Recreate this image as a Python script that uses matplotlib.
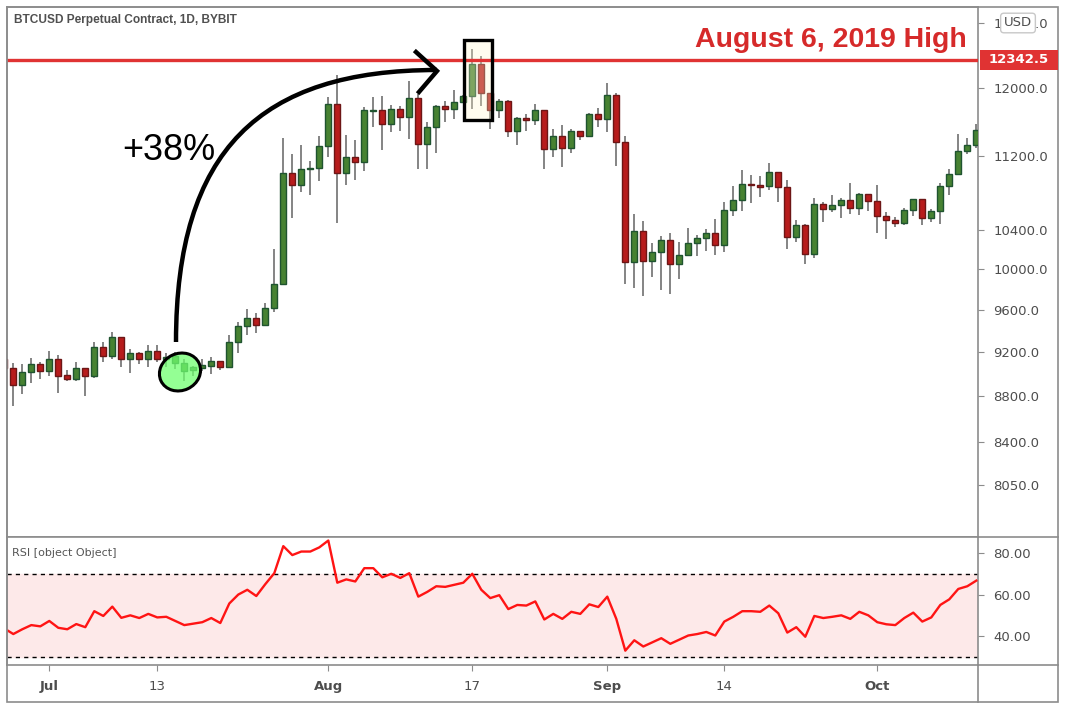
import numpy as np
import pandas as pd
import matplotlib
matplotlib.use('Agg')
import matplotlib.pyplot as plt
import matplotlib.dates as mdates
from matplotlib.patches import Ellipse, Rectangle, PathPatch
from matplotlib.path import Path
from matplotlib.ticker import NullLocator

plt.rcParams['font.family'] = ['DejaVu Sans']

### data
dates = pd.date_range('2020-06-26', periods=109, freq='D')

opens = [9139, 9049, 8896, 9012, 9085, 9027, 9139, 8986, 8955, 9049,
         8982, 9250, 9158, 9343, 9139, 9194, 9139, 9213, 9139, 9094,
         9027, 9033, 9054, 9072, 9115, 9063, 9296, 9446, 9522, 9452,
         9618, 9852, 11012, 10876, 11056, 11067, 11315, 11801, 11012, 11190,
         11141, 11722, 11730, 11567, 11742, 11656, 11873, 11337, 11533, 11777,
         11742, 11825, 11897, 12285, 11933, 11730, 11837, 11486, 11637, 11614,
         11730, 11281, 11429, 11292, 11486, 11429, 11684, 11625, 11909, 11361,
         10068, 10390, 10078, 10174, 10297, 10048, 10143, 10266, 10318, 10369,
         10245, 10611, 10718, 10891, 10880, 10869, 11023, 10858, 10328, 10453,
         10154, 10675, 10622, 10664, 10718, 10633, 10782, 10707, 10548, 10506,
         10474, 10611, 10729, 10527, 10601, 10869, 11001, 11258, 11326]
highs = [9179, 9097, 9088, 9142, 9108, 9206, 9170, 9033, 9108, 9049,
         9290, 9296, 9389, 9343, 9225, 9203, 9262, 9262, 9188, 9197,
         9133, 9072, 9133, 9149, 9115, 9355, 9484, 9602, 9563, 9666,
         10208, 11410, 11227, 11330, 11149, 11432, 11888, 12154, 11444, 11387,
         11773, 11888, 11900, 11793, 11781, 12081, 11920, 11594, 11789, 11844,
         11972, 11912, 12476, 12388, 11933, 11865, 11849, 11649, 11684, 11805,
         11730, 11516, 11559, 11516, 11486, 11702, 11754, 12056, 11933, 11432,
         10572, 10498, 10269, 10341, 10369, 10279, 10425, 10345, 10414, 10519,
         10700, 10872, 11049, 10994, 10975, 11123, 11023, 10939, 10509, 10464,
         10740, 10700, 10775, 10740, 10905, 10793, 10782, 10883, 10590, 10537,
         10633, 10729, 10729, 10622, 10902, 11056, 11452, 11406, 11570]
lows = [9024, 8716, 8821, 8914, 8955, 8982, 8830, 8934, 8937, 8804,
        8964, 9108, 9133, 9058, 9009, 9085, 9058, 9103, 9060, 9042,
        8934, 8982, 9027, 8997, 9036, 9063, 9188, 9361, 9380, 9443,
        9580, 9852, 10522, 10800, 10768, 10920, 11197, 10470, 10876, 10931,
        11041, 11540, 11276, 11482, 11493, 11402, 11063, 11056, 11236, 11597,
        11632, 11816, 11742, 11777, 11516, 11637, 11424, 11333, 11493, 11563,
        11056, 11197, 11078, 11242, 11383, 11418, 11540, 11482, 11096, 9848,
        9809, 9731, 9918, 9790, 9750, 9898, 10129, 10129, 10187, 10139,
        10170, 10544, 10596, 10681, 10746, 10832, 10692, 10203, 10272, 10048,
        10109, 10480, 10590, 10522, 10565, 10554, 10596, 10365, 10307, 10432,
        10453, 10544, 10449, 10485, 10464, 10772, 11001, 11224, 11296]
closes = [9049, 8896, 9012, 9085, 9027, 9139, 8982, 8955, 9049, 8982,
          9250, 9158, 9343, 9139, 9194, 9139, 9213, 9139, 9154, 9158,
          9094, 9058, 9078, 9115, 9063, 9296, 9446, 9522, 9452, 9618,
          9852, 11012, 10876, 11056, 11071, 11315, 11801, 11012, 11190, 11141,
          11730, 11734, 11567, 11742, 11656, 11873, 11337, 11533, 11777, 11742,
          11825, 11897, 12285, 11933, 11730, 11837, 11486, 11637, 11614, 11730,
          11281, 11429, 11292, 11486, 11429, 11684, 11625, 11909, 11361, 10068,
          10390, 10078, 10174, 10297, 10048, 10143, 10266, 10318, 10369, 10245,
          10611, 10718, 10891, 10876, 10865, 11023, 10858, 10328, 10453, 10154,
          10675, 10622, 10664, 10718, 10633, 10782, 10707, 10548, 10506, 10474,
          10611, 10729, 10527, 10601, 10869, 11001, 11258, 11326, 11498]
rsi = [43.7, 41, 43.3, 45.3, 44.7, 47.3, 44, 43.3, 45.8, 44.3,
       52, 49.7, 54.2, 48.8, 50, 48.7, 50.7, 49, 49.3, 47.3,
       45.3, 46, 46.7, 48.7, 46.3, 55.7, 60, 62.3, 59.3, 65,
       70.3, 83.3, 79, 80.7, 80.7, 82.7, 86, 65.7, 67.3, 66.3,
       72.7, 72.7, 68.3, 70, 68, 70.3, 59, 61.3, 64, 63.7,
       64.7, 65.7, 70, 62.3, 58.3, 59.7, 53, 55, 54.7, 56.7,
       48, 50.7, 48.3, 51.7, 50.7, 55.3, 54, 59, 48.3, 33,
       38, 35, 37, 39, 36.3, 38.3, 40.3, 41, 42, 40.3,
       47, 49.3, 52, 52, 51.7, 54.7, 51, 41.7, 44.3, 39.7,
       49.7, 48.7, 49.3, 50, 48.3, 51.7, 50, 46.7, 45.7, 45.3,
       48.7, 51.3, 47, 49, 55, 57.7, 62.7, 64, 66.7]

price_ticks = [8050, 8400, 8800, 9200, 9600, 10000, 10400, 11200, 12000, 12800]
rsi_ticks = [40, 60, 80]
x_tick_dates = ['2020-07-01', '2020-07-13', '2020-08-01', '2020-08-17',
                '2020-09-01', '2020-09-14', '2020-10-01']
x_tick_labels = ['Jul', '13', 'Aug', '17', 'Sep', '14', 'Oct']
month_labels = ['Jul', 'Aug', 'Sep', 'Oct']
high_level = 12342.5
box_dates = ['2020-08-17', '2020-08-18']

GREEN = '#478232'
GREEN_EDGE = '#1f5430'
RED = '#b71c1c'
RED_EDGE = '#6d1616'
LINE_RED = '#e03333'
GRID = '#8c8c8c'
TXT = '#4d4d4d'

W, H = 1065, 710
fig = plt.figure(figsize=(W / 100, H / 100), dpi=100)
ax = fig.add_axes([7 / W, 1 - 537 / H, 971 / W, 530 / H])
rx = fig.add_axes([7 / W, 1 - 665 / H, 971 / W, 128 / H], sharex=ax)

x = mdates.date2num(dates)
o = np.array(opens, float)
c = np.array(closes, float)
up = c >= o
bot = np.minimum(o, c)
hgt = np.maximum(np.abs(c - o), 4)

# candles
ax.vlines(x, lows, highs, color='#707070', lw=1.2, zorder=2)
ax.bar(x[up], hgt[up], bottom=bot[up], width=0.68, color=GREEN,
       edgecolor=GREEN_EDGE, lw=1, zorder=3)
ax.bar(x[~up], hgt[~up], bottom=bot[~up], width=0.68, color=RED,
       edgecolor=RED_EDGE, lw=1, zorder=3)

x0 = mdates.date2num(pd.Timestamp('2020-07-01'))
ax.set_xlim(x0 - 4.7, x0 + 103.19)
ax.set_yscale('log')
ax.set_ylim(7638, 13014)
ax.yaxis.tick_right()
ax.set_yticks(price_ticks)
ax.set_yticklabels(['%.1f' % t for t in price_ticks])
ax.yaxis.set_minor_locator(NullLocator())
ax.tick_params(axis='y', length=4, color=GRID, labelsize=9.5,
               labelcolor=TXT, pad=7)
ax.tick_params(axis='x', bottom=False, labelbottom=False)

# August high line
ax.axhline(high_level, color=LINE_RED, lw=2.4, zorder=5)

# highlight box around the top candles
b0 = mdates.date2num(pd.Timestamp(box_dates[0])) - 0.92
b1 = mdates.date2num(pd.Timestamp(box_dates[1])) + 1.19
ax.add_patch(Rectangle((b0, 11616), b1 - b0, 12590 - 11616, fc='#fff6cc',
                       alpha=0.3, ec='none', zorder=4))
ax.add_patch(Rectangle((b0, 11616), b1 - b0, 12590 - 11616, fill=False,
                       ec='black', lw=2.4, zorder=6))

# RSI
rx.axhspan(30, 70, color='#fde9e9', zorder=0)
rx.axhline(70, color='black', lw=1, ls=(0, (3, 3)))
rx.axhline(30, color='black', lw=1, ls=(0, (3, 3)))
rx.plot(x, rsi, color='#ff1414', lw=1.7, zorder=3)
rx.set_ylim(26.1, 87.7)
rx.yaxis.tick_right()
rx.set_yticks(rsi_ticks)
rx.set_yticklabels(['%.2f' % t for t in rsi_ticks])
rx.tick_params(axis='y', length=4, color=GRID, labelsize=9.5,
               labelcolor=TXT, pad=7)
rx.set_xticks(mdates.date2num(pd.to_datetime(x_tick_dates)))
rx.set_xticklabels(x_tick_labels)
rx.tick_params(axis='x', length=4, color=GRID, labelsize=9.5,
               labelcolor=TXT, pad=7)
for lbl in rx.get_xticklabels():
    if lbl.get_text() in month_labels:
        lbl.set_fontweight('bold')

for a in (ax, rx):
    for s in a.spines.values():
        s.set_color(GRID)
        s.set_linewidth(1.2)

# overlay in pixel units for the drawn annotations
ov = fig.add_axes([0, 0, 1, 1], zorder=10)
ov.set_xlim(0, W)
ov.set_ylim(H, 0)
ov.axis('off')
ov.patch.set_alpha(0)

ov.add_patch(Rectangle((7, 7), 1051, 695, fill=False, ec=GRID, lw=1.2))
ov.plot([978, 1058], [537, 537], color=GRID, lw=1.2)
ov.plot([978, 1058], [665, 665], color=GRID, lw=1.2)
ov.plot([978, 978], [665, 702], color=GRID, lw=1.2)

ov.text(14, 20, 'BTCUSD Perpetual Contract, 1D, BYBIT', fontsize=8.6,
        family='Liberation Sans', fontweight='bold', color='#505050',
        ha='left', va='center')
ov.text(12, 553, 'RSI [object Object]', fontsize=8, color='#555555',
        ha='left', va='center')

# price label of the high line
fig.canvas.draw()
ypix = H - ax.transData.transform((x0, high_level))[1]
ov.add_patch(Rectangle((980, ypix - 10), 78, 20, fc=LINE_RED, ec='none'))
ov.text(1019, ypix, '12342.5', color='white', fontsize=9.5, fontweight='bold',
        ha='center', va='center')

ov.text(1018, 23, 'USD', fontsize=9.5, color=TXT, ha='center', va='center',
        bbox=dict(boxstyle='round,pad=0.25', fc='white', ec='#c8c8c8', lw=1))

ov.text(967, 40, 'August 6, 2019 High', color='#d62a2a', fontsize=20.5,
        family='Liberation Sans', fontweight='bold', ha='right', va='center')

# green circle and arrow
ov.add_patch(Ellipse((180, 372), 42, 37, angle=-25, fc='#70ff70', alpha=0.75,
                     ec='none'))
ov.add_patch(Ellipse((180, 372), 42, 37, angle=-25, fill=False, ec='black',
                     lw=2.2))
curve = Path([(176, 342), (176, 150), (260, 70), (437, 70)],
             [Path.MOVETO, Path.CURVE4, Path.CURVE4, Path.CURVE4])
ov.add_patch(PathPatch(curve, fill=False, ec='black', lw=3.2))
ov.plot([416, 437, 419], [52, 71, 92], color='black', lw=3.2,
        solid_joinstyle='miter')
ov.text(169, 150, '+38%', fontsize=26, family='Liberation Sans',
        color='black', ha='center', va='center')

fig.savefig('out.png', dpi=100)
